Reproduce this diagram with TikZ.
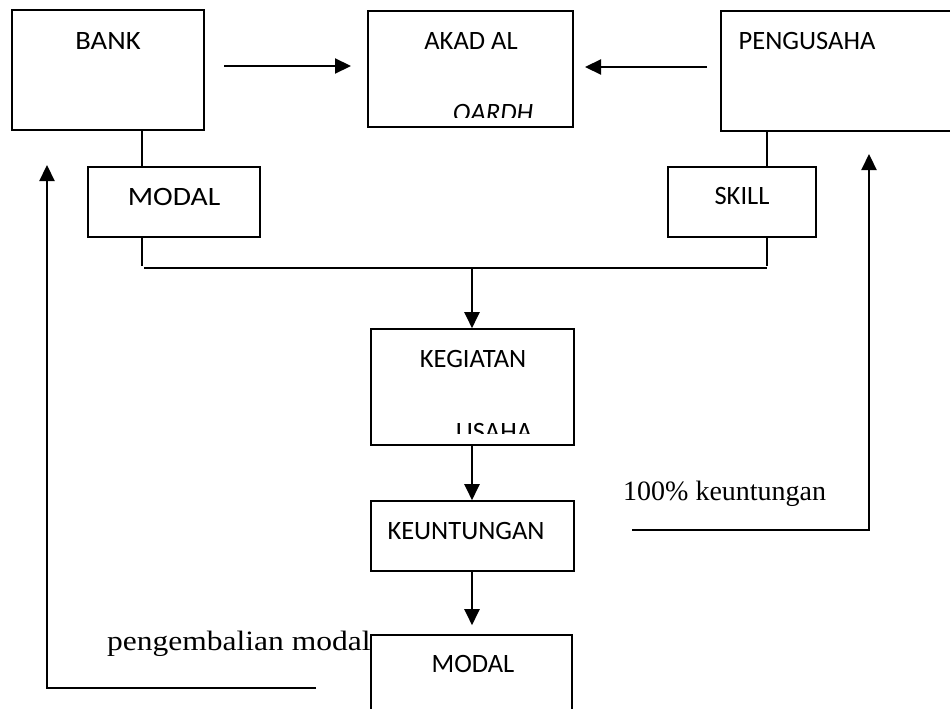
\documentclass[tikz,border=0pt]{standalone}
\usepackage{fontspec}
\setmainfont{Liberation Serif}
\newfontfamily\boxfont{Carlito}
\usetikzlibrary{arrows.meta}
\begin{document}
\begin{tikzpicture}[x=1pt,y=-1pt,
  box/.style={draw,line width=1.6pt,rectangle,inner sep=0pt},
  btxt/.style={font=\boxfont\fontsize{26.5}{30}\selectfont,anchor=base,inner sep=0pt},
  ltxt/.style={font=\fontsize{28}{32}\selectfont,anchor=base west,inner sep=0pt},
  thinline/.style={line width=1.3pt},
  arr/.style={line width=2.2pt,-{Triangle[length=16pt,width=15pt]}},
  plain/.style={line width=2.2pt}]
\useasboundingbox (0,0) rectangle (950,709);
\clip (0,0) rectangle (950,709);
% boxes
\node[box,minimum width=192,minimum height=120] (bank) at (108,70) {};
\node[box,minimum width=205,minimum height=116] (akad) at (470.5,69) {};
\node[box,minimum width=250,minimum height=120] (peng) at (846,71) {};
\node[box,minimum width=172,minimum height=70] (modala) at (174,202) {};
\node[box,minimum width=148,minimum height=70] (skill) at (742,202) {};
\node[box,minimum width=203,minimum height=116] (keg) at (472.5,387) {};
\node[box,minimum width=203,minimum height=70] (keun) at (472.5,536) {};
\node[box,minimum width=201,minimum height=120] (modalb) at (471.5,695) {};
% texts
\node[btxt] (tbank) at (108,50) {\scalebox{1.08}[1]{BANK}};
\node[btxt] (takad) at (471,49) {AKAD AL};
\begin{scope}
\clip (akad.south west) ++(2,-10) rectangle (akad.north east);
\node[btxt,font=\boxfont\itshape\fontsize{26.5}{30}\selectfont] (tqardh) at (493,121) {QARDH};
\end{scope}
\node[btxt] (tpeng) at (807,50) {PENGUSAHA};
\node[btxt] (tmodala) at (174,205) {\scalebox{1.12}[1]{MODAL}};
\node[btxt] (tskill) at (742,204) {SKILL};
\node[btxt] (tkeg) at (473,367) {KEGIATAN};
\begin{scope}
\clip (keg.south west) ++(2,-12) rectangle (keg.north east);
\node[btxt] (tusaha) at (494,440) {USAHA};
\end{scope}
\node[btxt] (tkeun) at (466,539) {KEUNTUNGAN};
\node[btxt] (tmodalb) at (473,672) {MODAL};
\node[ltxt] (tkeuntungan) at (623,500) {100\% keuntungan};
\node[ltxt] (tpengembalian) at (107,650) {\scalebox{1.125}[1]{pengembalian modal}};
% coordinates
\coordinate (lx) at (142,0);
\coordinate (rx) at (767,0);
\coordinate (mx) at (472,0);
\coordinate (a1s) at (224,66);
\coordinate (a1e) at (351,66);
\coordinate (a2s) at (707,67);
\coordinate (a2e) at (585,67);
\coordinate (lstub) at (142,266);
\coordinate (rstub) at (767,266);
\coordinate (hl) at (144,268);
\coordinate (hr) at (767,268);
\coordinate (hm) at (472,268);
\coordinate (rfa) at (632,530);
\coordinate (rfb) at (869,530);
\coordinate (rfc) at (869,154);
\coordinate (lfa) at (316,688);
\coordinate (lfb) at (47,688);
\coordinate (lfc) at (47,165);
% connectors
\draw[arr] (a1s) -- (a1e);
\draw[arr] (a2s) -- (a2e);
\draw[thinline] (bank.south -| lx) -- (modala.north -| lx);
\draw[thinline] (peng.south -| rx) -- (skill.north -| rx);
\draw[thinline] (modala.south -| lx) -- (lstub);
\draw[thinline] (skill.south -| rx) -- (rstub);
\draw[thinline] (hl) -- (hr);
\draw[arr] (hm) -- (keg.north -| mx);
\draw[arr] (keg.south -| mx) -- (keun.north -| mx);
\draw[arr] (keun.south -| mx) -- ([yshift=9pt]modalb.north -| mx);
\draw[arr] (rfa) -- (rfb) -- (rfc);
\draw[arr] (lfa) -- (lfb) -- (lfc);
\end{tikzpicture}
\end{document}
